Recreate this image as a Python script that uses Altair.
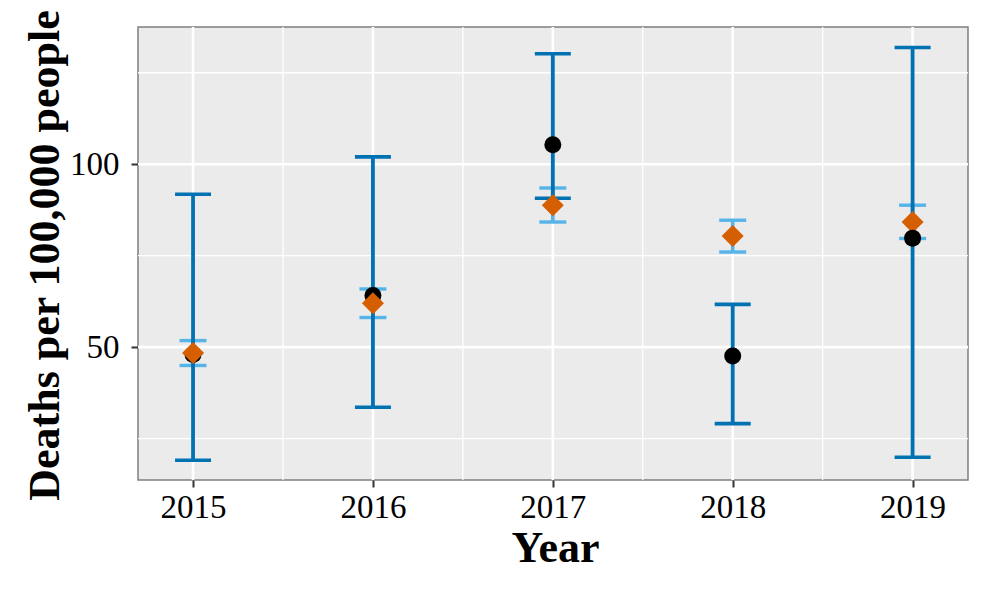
import altair as alt
import pandas as pd

years = [2015, 2016, 2017, 2018, 2019]
obs_rate = [48.0, 64.1, 105.3, 47.6, 79.8]
obs_low = [19.1, 33.6, 90.7, 29.1, 19.9]
obs_high = [91.8, 102.0, 130.2, 61.7, 131.9]
model_rate = [48.4, 62.0, 88.8, 80.4, 84.2]
model_low = [45.0, 58.1, 84.2, 76.0, 79.7]
model_high = [51.8, 65.9, 93.5, 84.7, 88.8]
y_major = [50, 100]
y_minor = [25, 75, 125]
x_minor = [2015.5, 2016.5, 2017.5, 2018.5]

df = pd.DataFrame({
    "year": years,
    "obs": obs_rate, "obs_low": obs_low, "obs_high": obs_high,
    "mod": model_rate, "mod_low": model_low, "mod_high": model_high,
})

FONT = "Liberation Serif"
DARK = "#0072B2"
LIGHT = "#56B4E9"
ORANGE = "#D55E00"

xs = alt.Scale(domain=[2014.694, 2019.308], nice=False, zero=False)
ys = alt.Scale(domain=[13.7, 137.5], nice=False, zero=False)

xaxis = alt.Axis(title="Year", values=years, format="d", grid=False, domain=False,
                 tickSize=7, tickWidth=2, tickColor="#333333",
                 labelFont=FONT, labelFontSize=33, labelColor="black",
                 labelBaseline="alphabetic", labelPadding=30, labelFlush=False,
                 labelOverlap=False,
                 titleFont=FONT, titleFontSize=44, titleFontWeight="bold",
                 titleColor="black", titleX=417, titleY=81,
                 titleBaseline="alphabetic", titleAlign="center")
yaxis = alt.Axis(title="Deaths per 100,000 people", values=y_major, grid=False,
                 domain=False, tickSize=7, tickWidth=2, tickColor="#333333",
                 labelFont=FONT, labelFontSize=33, labelColor="black",
                 labelPadding=12, labelFlush=False, labelOverlap=False,
                 titleFont=FONT, titleFontSize=44, titleFontWeight="bold",
                 titleColor="black", titleAngle=270, titleX=-80, titleY=228,
                 titleAlign="center", titleBaseline="alphabetic")


def X(f):
    return alt.X(f, type="quantitative", scale=xs, axis=xaxis)


def Y(f):
    return alt.Y(f, type="quantitative", scale=ys, axis=yaxis)


vminor = alt.Chart(pd.DataFrame({"v": x_minor})).mark_rule(
    color="white", strokeWidth=1.3).encode(x=X("v"))
hminor = alt.Chart(pd.DataFrame({"v": y_minor})).mark_rule(
    color="white", strokeWidth=1.3).encode(y=Y("v"))
vmajor = alt.Chart(pd.DataFrame({"v": years})).mark_rule(
    color="white", strokeWidth=2.6).encode(x=X("v"))
hmajor = alt.Chart(pd.DataFrame({"v": y_major})).mark_rule(
    color="white", strokeWidth=2.6).encode(y=Y("v"))

base = alt.Chart(df)

light_rule = base.mark_rule(color=LIGHT, strokeWidth=3.6).encode(
    x=X("year"), y=Y("mod_low"), y2="mod_high")
light_caps = base.transform_fold(["mod_low", "mod_high"], as_=["k", "v"]).mark_tick(
    orient="horizontal", size=27, thickness=3.4, color=LIGHT, opacity=1).encode(
    x=X("year"), y=Y("v"))
dark_rule = base.mark_rule(color=DARK, strokeWidth=3.8).encode(
    x=X("year"), y=Y("obs_low"), y2="obs_high")
dark_caps = base.transform_fold(["obs_low", "obs_high"], as_=["k", "v"]).mark_tick(
    orient="horizontal", size=36, thickness=3.6, color=DARK, opacity=1).encode(
    x=X("year"), y=Y("v"))

obs_pts = base.transform_filter("datum.year < 2019").mark_point(
    shape="circle", filled=True, color="black", size=289, opacity=1).encode(
    x=X("year"), y=Y("obs"))
mod_pts = base.mark_point(
    shape="diamond", filled=True, color=ORANGE, size=484, opacity=1).encode(
    x=X("year"), y=Y("mod"))
obs_last = base.transform_filter("datum.year >= 2019").mark_point(
    shape="circle", filled=True, color="black", size=289, opacity=1).encode(
    x=X("year"), y=Y("obs"))

chart = alt.layer(
    vminor, hminor, vmajor, hmajor,
    light_rule, light_caps, dark_rule, dark_caps,
    obs_pts, mod_pts, obs_last,
).properties(
    width=830, height=453,
    autosize=alt.AutoSizeParams(type="none"),
    padding={"left": 130, "top": 19, "right": 10, "bottom": 100},
    background="white",
).configure_view(
    fill="#EBEBEB", stroke="#7F7F7F", strokeWidth=1.5
)

chart.save("out.html", embed_options={"renderer": "svg", "actions": False})
